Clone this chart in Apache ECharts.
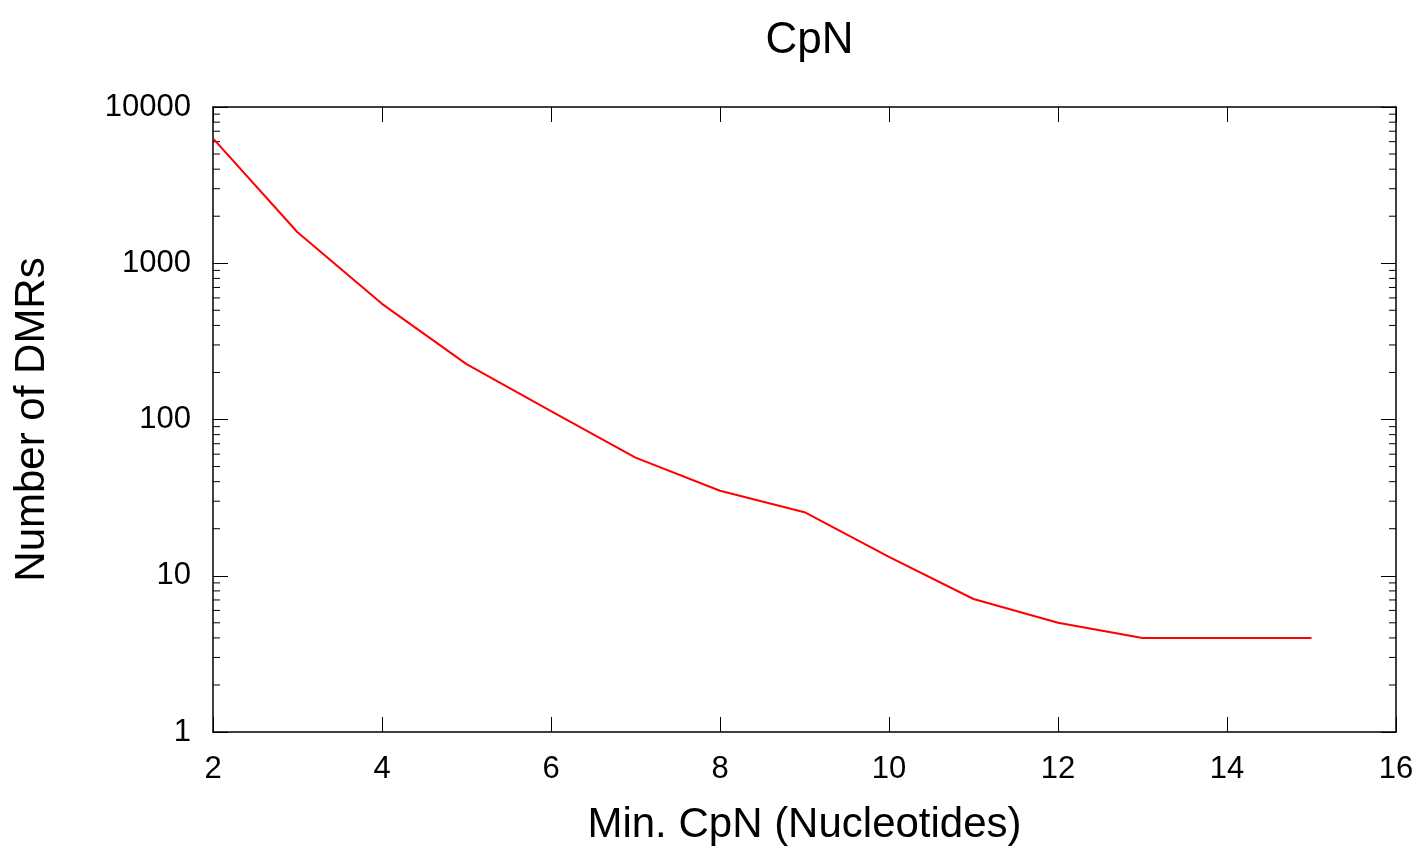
<!DOCTYPE html>
<html>
<head>
<meta charset="utf-8">
<title>CpN</title>
<script src="https://cdn.jsdelivr.net/npm/echarts@6/dist/echarts.min.js"></script>
<style>
  html, body { margin: 0; padding: 0; background: #fff; }
  #chart { width: 1422px; height: 850px; }
</style>
</head>
<body>
<div id="chart"></div>
<script>
// Minimum CpN length (nucleotides) and the number of DMRs that pass it
const minCpN = [2, 3, 4, 5, 6, 7, 8, 9, 10, 11, 12, 13, 14, 15];
const dmrCounts = [6300, 1580, 550, 226, 113, 57, 35, 25.5, 13.2, 7.1, 5, 4, 4, 4];

// Axis ranges and tick labels
const xTicks = [2, 4, 6, 8, 10, 12, 14, 16];
const yDecades = [1, 10, 100, 1000, 10000];

// Minor log ticks (2..9 within each decade)
const minorTicks = [];
for (let d = 0; d < yDecades.length - 1; d++) {
  for (let k = 2; k <= 9; k++) minorTicks.push(yDecades[d] * k);
}

const FONT = 'Liberation Sans, Arial, sans-serif';
const xMin = xTicks[0], xMax = xTicks[xTicks.length - 1];
const yMin = yDecades[0], yMax = yDecades[yDecades.length - 1];

const GRID = { left: 213, top: 107, width: 1183, height: 625 };

const chart = echarts.init(document.getElementById('chart'), null, { renderer: 'canvas' });

const tickStyle = { color: '#000', width: 1 };
const frameStyle = { color: '#000', width: 1.5 };

chart.setOption({
  backgroundColor: '#fff',
  animation: false,
  title: {
    text: 'CpN',
    left: GRID.left + GRID.width / 2,
    textAlign: 'center',
    top: 14,
    textStyle: { fontFamily: FONT, fontSize: 44, fontWeight: 'normal', color: '#000' }
  },
  grid: {
    left: GRID.left, top: GRID.top, width: GRID.width, height: GRID.height,
    containLabel: false,
    outerBoundsMode: 'none'
  },
  xAxis: [
    {
      type: 'value',
      min: xMin, max: xMax, interval: 2,
      name: 'Min. CpN (Nucleotides)',
      nameLocation: 'middle',
      nameGap: 72,
      nameTextStyle: { fontFamily: FONT, fontSize: 42, color: '#000' },
      axisLine: { show: true, onZero: false, lineStyle: frameStyle },
      axisTick: { show: true, inside: true, length: 15, lineStyle: tickStyle },
      axisLabel: { fontFamily: FONT, fontSize: 31, color: '#000', margin: 22 },
      splitLine: { show: false }
    },
    {
      type: 'value',
      position: 'top',
      min: xMin, max: xMax, interval: 2,
      axisLine: { show: true, onZero: false, lineStyle: frameStyle },
      axisTick: { show: true, inside: true, length: 15, lineStyle: tickStyle },
      axisLabel: { show: false },
      splitLine: { show: false }
    }
  ],
  yAxis: [
    {
      type: 'log',
      logBase: 10,
      min: yMin, max: yMax,
      name: 'Number of DMRs',
      nameLocation: 'middle',
      nameGap: 160,
      nameRotate: 90,
      nameTextStyle: { fontFamily: FONT, fontSize: 42, color: '#000' },
      axisLine: { show: true, onZero: false, lineStyle: frameStyle },
      axisTick: { show: true, inside: true, length: 15, lineStyle: tickStyle },
      axisLabel: {
        fontFamily: FONT, fontSize: 31, color: '#000', margin: 22,
        formatter: v => String(Math.round(v))
      },
      splitLine: { show: false }
    },
    {
      type: 'log',
      logBase: 10,
      position: 'right',
      min: yMin, max: yMax,
      axisLine: { show: true, onZero: false, lineStyle: frameStyle },
      axisTick: { show: true, inside: true, length: 15, lineStyle: tickStyle },
      axisLabel: { show: false },
      splitLine: { show: false }
    }
  ],
  series: [
    {
      // minor ticks on the left and right frame edges
      type: 'custom',
      xAxisIndex: 0,
      yAxisIndex: 0,
      silent: true,
      clip: false,
      data: minorTicks.map(v => [xMin, v]),
      renderItem: function (params, api) {
        const v = api.value(1);
        const pl = api.coord([xMin, v]);
        const pr = api.coord([xMax, v]);
        const style = { stroke: '#000', lineWidth: 1 };
        return {
          type: 'group',
          children: [
            { type: 'line', shape: { x1: pl[0], y1: pl[1], x2: pl[0] + 7, y2: pl[1] }, style },
            { type: 'line', shape: { x1: pr[0] - 7, y1: pr[1], x2: pr[0], y2: pr[1] }, style }
          ]
        };
      }
    },
    {
      name: 'DMRs',
      type: 'line',
      xAxisIndex: 0,
      yAxisIndex: 0,
      data: minCpN.map((x, i) => [x, dmrCounts[i]]),
      showSymbol: false,
      symbol: 'none',
      lineStyle: { color: '#ff0000', width: 2 },
      itemStyle: { color: '#ff0000' }
    }
  ]
});
</script>
</body>
</html>
